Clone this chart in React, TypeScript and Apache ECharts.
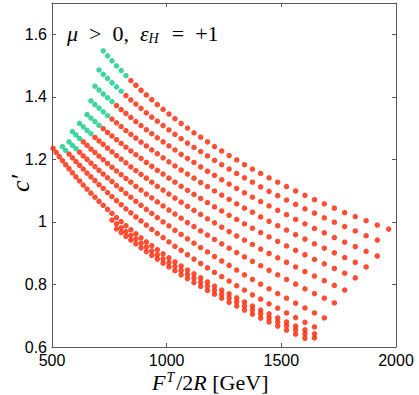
import React, { useEffect, useRef } from 'react';
import * as echarts from 'echarts';

// Shared F^T/2R grid (GeV) on which the scan points lie
const xGrid = [
  505, 518.1, 531.6, 545.4, 559.6, 574.2, 589.1, 604.4, 620.1, 636.2,
  652.8, 669.8, 687.2, 705.0, 723.4, 742.2, 761.5, 781.3, 801.6, 822.4,
  843.8, 865.7, 888.2, 911.3, 935.0, 959.3, 984.3, 1009.9, 1036.1, 1063.1,
  1090.7, 1119.1, 1148.2, 1178.0, 1208.6, 1240.0, 1272.3, 1305.4, 1339.3, 1374.1,
  1409.9, 1446.5, 1484.1, 1522.7, 1562.3, 1602.9, 1644.6, 1687.4, 1731.2, 1776.2,
  1822.4, 1869.8, 1918.4, 1968.3,
];

// index in xGrid of the first point of each curve
const startIndex = [14, 13, 12, 11, 10, 8, 6, 5, 3, 0, 16, 17];
// number of leading (green) points of each curve
const greenCount = [6, 6, 5, 5, 4, 4, 3, 3, 2, 0, 0, 0];

const c0 = [1.547,1.531,1.515,1.499,1.484,1.468,1.452,1.437,1.421,1.406,1.391,1.375,1.360,1.345,1.330,1.315,1.300,1.285,1.271,1.256,1.241,1.227,1.212,1.198,1.183,1.169,1.155,1.141,1.127,1.113,1.099,1.085,1.071,1.058,1.044,1.030,1.017,1.004,0.990,0.977];
const c1 = [1.486,1.472,1.459,1.445,1.432,1.418,1.404,1.390,1.377,1.363,1.349,1.335,1.322,1.308,1.294,1.280,1.266,1.252,1.238,1.225,1.211,1.197,1.183,1.169,1.155,1.141,1.127,1.112,1.098,1.084,1.070,1.056,1.042,1.028,1.013,0.999,0.985,0.971,0.956,0.942];
const c2 = [1.434,1.422,1.409,1.397,1.385,1.372,1.359,1.347,1.334,1.321,1.308,1.295,1.282,1.269,1.256,1.243,1.230,1.216,1.203,1.190,1.176,1.162,1.149,1.135,1.121,1.107,1.093,1.079,1.065,1.051,1.037,1.023,1.008,0.994,0.979,0.965,0.950,0.935,0.921,0.906,0.891];
const c3 = [1.387,1.375,1.364,1.352,1.340,1.329,1.317,1.305,1.292,1.280,1.268,1.255,1.243,1.230,1.218,1.205,1.192,1.179,1.166,1.153,1.140,1.126,1.113,1.099,1.086,1.072,1.058,1.044,1.031,1.016,1.002,0.988,0.974,0.959,0.945,0.930,0.916,0.901,0.886,0.871,0.856];
const c4 = [1.343,1.332,1.321,1.309,1.298,1.286,1.275,1.263,1.251,1.239,1.227,1.215,1.203,1.190,1.178,1.165,1.153,1.140,1.127,1.114,1.101,1.088,1.075,1.062,1.048,1.035,1.021,1.008,0.994,0.980,0.966,0.952,0.938,0.923,0.909,0.895,0.880,0.866,0.851,0.836,0.821];
const c5 = [1.315,1.304,1.293,1.282,1.270,1.259,1.248,1.236,1.224,1.212,1.201,1.189,1.176,1.164,1.152,1.140,1.127,1.114,1.102,1.089,1.076,1.063,1.050,1.037,1.024,1.010,0.997,0.983,0.969,0.955,0.942,0.928,0.913,0.899,0.885,0.871,0.856,0.841,0.827,0.812,0.797,0.782];
const c6 = [1.289,1.278,1.267,1.256,1.245,1.233,1.222,1.210,1.199,1.187,1.175,1.163,1.151,1.139,1.127,1.114,1.102,1.089,1.077,1.064,1.051,1.038,1.025,1.012,0.998,0.985,0.971,0.958,0.944,0.930,0.916,0.902,0.888,0.874,0.860,0.845,0.831,0.816,0.801,0.786,0.771,0.756,0.741];
const c7 = [1.256,1.245,1.234,1.223,1.211,1.200,1.188,1.177,1.165,1.153,1.141,1.129,1.116,1.104,1.091,1.079,1.066,1.053,1.040,1.027,1.014,1.000,0.987,0.973,0.960,0.946,0.932,0.918,0.904,0.889,0.875,0.861,0.846,0.831,0.816,0.801,0.786,0.771,0.756,0.740,0.725,0.709,0.693];
const c8 = [1.241,1.229,1.217,1.205,1.193,1.181,1.169,1.156,1.144,1.132,1.119,1.107,1.094,1.081,1.068,1.055,1.042,1.029,1.016,1.003,0.990,0.976,0.963,0.950,0.936,0.922,0.909,0.895,0.881,0.867,0.853,0.839,0.825,0.811,0.796,0.782,0.767,0.753,0.738,0.724,0.709,0.694,0.679,0.664];
const c9 = [1.235,1.222,1.209,1.196,1.183,1.170,1.157,1.144,1.131,1.118,1.105,1.092,1.079,1.066,1.053,1.040,1.027,1.014,1.001,0.988,0.975,0.962,0.949,0.936,0.924,0.911,0.898,0.885,0.872,0.859,0.846,0.834,0.821,0.808,0.795,0.782,0.770,0.757,0.744,0.731,0.718,0.706,0.693,0.680,0.667,0.655,0.642];
const c10 = [1.006,0.994,0.981,0.969,0.957,0.945,0.932,0.920,0.907,0.895,0.882,0.870,0.858,0.845,0.832,0.820,0.807,0.795,0.782,0.769,0.757,0.744,0.731,0.719,0.706,0.693,0.680,0.668,0.655,0.642,0.629];
const c11 = [0.978,0.966,0.954,0.942,0.930,0.917,0.905,0.893,0.881,0.868,0.856,0.844,0.831,0.819,0.806,0.794,0.781,0.769,0.756,0.743,0.731,0.718,0.705,0.692,0.680,0.667,0.654,0.641,0.628];

const curves = [c0, c1, c2, c3, c4, c5, c6, c7, c8, c9, c10, c11];

const xTicks = [500, 1000, 1500, 2000];
const yTicks = [0.6, 0.8, 1, 1.2, 1.4, 1.6];

const RED = '#ff2200';
const GREEN = '#12c987';
const AXIS = '#5a5a5a';
const SERIF = "'Liberation Serif', 'DejaVu Serif', serif";
const SANS = "'Liberation Sans', Arial, sans-serif";

export default function App() {
  const ref = useRef<HTMLDivElement>(null);

  useEffect(() => {
    if (!ref.current) return;
    const chart = echarts.init(ref.current, undefined, { renderer: 'svg' });

    const red: number[][] = [];
    const green: number[][] = [];
    curves.forEach((ys, k) => {
      ys.forEach((y, i) => {
        const pt = [xGrid[startIndex[k] + i], y];
        if (i < greenCount[k]) green.push(pt);
        else red.push(pt);
      });
    });

    const xMin = xTicks[0];
    const xMax = xTicks[xTicks.length - 1];
    const xInt = xTicks[1] - xTicks[0];
    const yMin = yTicks[0];
    const yInt = 0.2;
    const yMax = 1.7;

    const tickStyle = { inside: true, length: 4, lineStyle: { color: AXIS, width: 1 } };
    const lineStyle = { lineStyle: { color: AXIS, width: 1 } };

    chart.setOption({
      animation: false,
      grid: { left: 52, right: 23, top: 3, bottom: 48 },
      xAxis: [
        {
          type: 'value', min: xMin, max: xMax, interval: xInt,
          axisLine: lineStyle, axisTick: tickStyle, splitLine: { show: false },
          axisLabel: {
            color: '#000', fontSize: 16, fontFamily: SANS, margin: 5,
            formatter: (v: number) => String(v),
          },
        },
        {
          type: 'value', position: 'top', min: xMin, max: xMax, interval: xInt,
          axisLine: lineStyle, axisTick: tickStyle, splitLine: { show: false },
          axisLabel: { show: false },
        },
      ],
      yAxis: [
        {
          type: 'value', min: yMin, max: yMax, interval: yInt,
          axisLine: lineStyle, axisTick: tickStyle, splitLine: { show: false },
          axisLabel: {
            color: '#000', fontSize: 16, fontFamily: SANS, margin: 5, showMaxLabel: false,
            formatter: (v: number) => String(Math.round(v * 10) / 10),
          },
        },
        {
          type: 'value', position: 'right', min: yMin, max: yMax, interval: yInt,
          axisLine: lineStyle, axisTick: tickStyle, splitLine: { show: false },
          axisLabel: { show: false },
        },
      ],
      series: [
        {
          type: 'scatter', data: red, symbol: 'circle', symbolSize: 5.5,
          itemStyle: { color: RED }, silent: true,
        },
        {
          type: 'scatter', data: green, symbol: 'circle', symbolSize: 5.5,
          itemStyle: { color: GREEN }, silent: true,
        },
      ],
      graphic: [
        {
          type: 'text', left: 67, top: 22,
          style: {
            text: '{i|μ}  >  0,  {i|ε}{s|H}  =  +1',
            fontSize: 22, fontFamily: SERIF, fill: '#000',
            rich: {
              i: { fontStyle: 'italic', fontSize: 22, fontFamily: SERIF },
              s: { fontStyle: 'italic', fontSize: 14, fontFamily: SERIF, padding: [11, 2, 0, 0] },
            },
          },
        },
        {
          type: 'text', left: 152, top: 370,
          style: {
            text: '{i|F}{p|T}/2{i|R} [GeV]',
            fontSize: 22, fontFamily: SERIF, fill: '#000',
            rich: {
              i: { fontStyle: 'italic', fontSize: 22, fontFamily: SERIF },
              p: { fontStyle: 'italic', fontSize: 14, fontFamily: SERIF, padding: [0, 2, 11, 1] },
            },
          },
        },
        {
          type: 'text', x: 7, y: 192, rotation: Math.PI / 2,
          style: {
            text: 'c′', fontSize: 26, fontStyle: 'italic', fontFamily: SERIF, fill: '#000',
          },
        },
      ],
    });

    return () => chart.dispose();
  }, []);

  return (
    <div
      ref={ref}
      style={{ position: 'fixed', left: 0, top: 0, width: 419, height: 395, background: '#fff' }}
    />
  );
}
